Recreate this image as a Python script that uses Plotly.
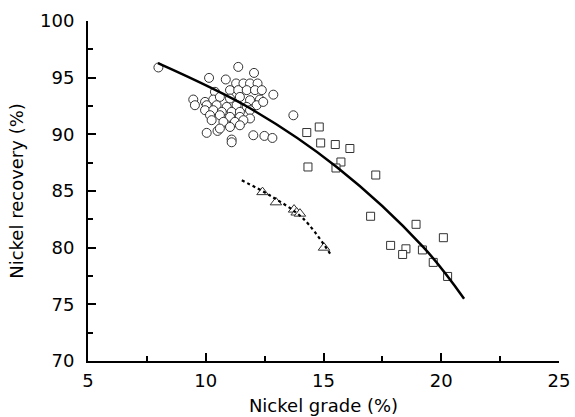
import plotly.graph_objects as go

# Circles (open)
circle_x = [7.99, 10.14, 11.38, 12.05, 10.85, 12.87, 9.47, 9.54, 13.72, 10.04, 10.5, 11.1, 11.1, 12.02, 12.49, 12.83,
            11.29, 11.6, 11.88, 12.2,
            11.03, 11.38, 11.74, 12.09, 12.38,
            10.39,
            9.97, 10.32, 10.6, 11.03, 11.45, 11.88, 12.3,
            10.04, 10.46, 10.89, 11.31, 11.74, 12.16, 12.44,
            9.97, 10.32, 10.68, 11.1, 11.45, 11.88,
            10.18, 10.6, 11.03, 11.45, 11.88,
            10.25, 10.75, 11.24, 11.6,
            10.6, 11.03, 11.45]
circle_y = [95.9, 94.98, 95.95, 95.42, 94.84, 93.5, 93.07, 92.57, 91.68, 90.13, 90.3, 89.54, 89.3, 89.92, 89.86, 89.68,
            94.49, 94.49, 94.49, 94.49,
            93.9, 93.9, 93.9, 93.9, 93.9,
            93.75,
            92.86, 93.07, 93.3, 93.16, 93.3, 93.01, 93.07,
            92.57, 92.57, 92.42, 92.57, 92.42, 92.57, 92.86,
            92.13, 92.13, 91.98, 91.98, 91.98, 92.13,
            91.69, 91.69, 91.54, 91.54, 91.4,
            91.25, 91.1, 91.1, 91.25,
            90.51, 90.65, 90.8]

# Squares (open)
square_x = [14.82, 14.29, 14.88, 15.50, 16.12, 15.74, 15.53, 14.34, 17.22, 17.0, 18.93, 20.09,
            17.85, 18.5, 18.36, 19.2, 19.66, 20.27]
square_y = [90.65, 90.16, 89.24, 89.1, 88.75, 87.56, 87.03, 87.12, 86.41, 82.77, 82.06, 80.88,
            80.2, 79.9, 79.4, 79.8, 78.7, 77.46]

# Triangles (open)
tri_x = [12.41, 12.98, 13.75, 13.86, 14.0, 15.02]
tri_y = [84.9, 84.0, 83.36, 83.1, 83.0, 80.0]

# Solid trend curve
curve_x = [7.97, 11.88, 15.56, 19.24, 20.97]
curve_y = [96.28, 92.3, 87.12, 80.05, 75.5]

# Dotted trend curve
dot_x = [11.53, 12.73, 14.14, 15.28]
dot_y = [85.94, 84.6, 82.56, 79.47]

fig = go.Figure()
fig.add_trace(go.Scatter(x=circle_x, y=circle_y, mode="markers",
                         marker=dict(symbol="circle", size=9, color="white",
                                     line=dict(color="#333", width=1)), showlegend=False))
fig.add_trace(go.Scatter(x=square_x, y=square_y, mode="markers",
                         marker=dict(symbol="square", size=8, color="white",
                                     line=dict(color="#333", width=1)), showlegend=False))
fig.add_trace(go.Scatter(x=tri_x, y=tri_y, mode="markers",
                         marker=dict(symbol="triangle-up", size=10, color="white",
                                     line=dict(color="#333", width=1)), showlegend=False))
fig.add_trace(go.Scatter(x=curve_x, y=curve_y, mode="lines", line_shape="spline",
                         line=dict(color="black", width=2.5), showlegend=False))
fig.add_trace(go.Scatter(x=dot_x, y=dot_y, mode="lines", line_shape="spline",
                         line=dict(color="black", width=2.2, dash="dot"), showlegend=False))

font = dict(family="DejaVu Sans", size=18, color="black")
axis_common = dict(showgrid=False, zeroline=False, showline=True, linecolor="black", linewidth=2,
                   ticks="inside", ticklen=8, tickwidth=1.5, tickcolor="black",
                   tickfont=font, mirror=False, automargin=False)

fig.update_layout(
    width=575, height=417,
    margin=dict(l=88, r=16, t=21, b=56),
    paper_bgcolor="white", plot_bgcolor="white",
    font=font,
    xaxis=dict(range=[5, 25], tickvals=[5, 10, 15, 20, 25], ticklabelstandoff=2,
               minor=dict(ticks="inside", ticklen=5, tickwidth=1.5, tickcolor="black", dtick=2.5),
               title=dict(text="Nickel grade (%)", font=font, standoff=10), **axis_common),
    yaxis=dict(range=[70, 100], tickvals=[70, 75, 80, 85, 90, 95, 100], ticklabelstandoff=8,
               minor=dict(ticks="inside", ticklen=5, tickwidth=1.5, tickcolor="black", dtick=2.5),
               title=dict(text="Nickel recovery (%)", font=font, standoff=12), **axis_common),
)

fig.write_html("out.html", config={"displayModeBar": False},
               post_script="document.body.style.margin='0';document.body.style.overflow='hidden';")
